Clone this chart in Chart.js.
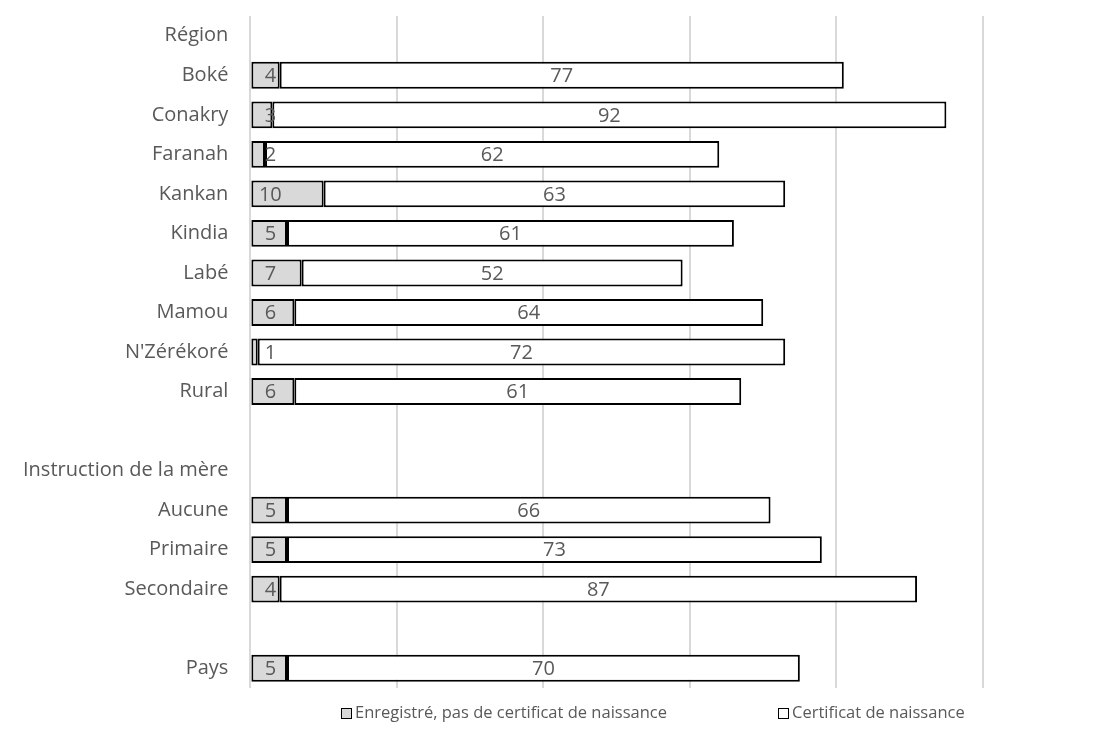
<!DOCTYPE html>
<html>
<head>
<meta charset="utf-8">
<script src="https://cdn.jsdelivr.net/npm/chart.js@4"></script>
<style>
  body { margin: 0; background: #ffffff; font-family: "Open Sans", sans-serif; }
  #box { position: relative; width: 1113px; height: 752px; overflow: hidden; }
  #area { position: absolute; left: 0; top: -10px; width: 1113px; height: 724px; }
  .legenda { position: absolute; top: 700px; font-size: 16.5px; color: #595959; line-height: 24px; white-space: nowrap; }
  .legenda span.caixa { display: inline-block; width: 9px; height: 9px; border: 1.5px solid #000; margin-right: 3px; vertical-align: -1px; }
</style>
</head>
<body>
<div id="box">
  <div id="area"><canvas id="grafico"></canvas></div>
  <div class="legenda" id="leg0" style="left:341px"></div>
  <div class="legenda" id="leg1" style="left:778px"></div>
</div>
<script>
// categories (empty entries are headings / spacers)
const categorias = ['Région', 'Boké', 'Conakry', 'Faranah', 'Kankan', 'Kindia', 'Labé', 'Mamou', "N'Zérékoré", 'Rural', '', 'Instruction de la mère', 'Aucune', 'Primaire', 'Secondaire', '', 'Pays'];
const enregistre = [null, 4, 3, 2, 10, 5, 7, 6, 1, 6, null, null, 5, 5, 4, null, 5];
const certificat = [null, 77, 92, 62, 63, 61, 52, 64, 72, 61, null, null, 66, 73, 87, null, 70];
const nomsSeries = ['Enregistré, pas de certificat de naissance', 'Certificat de naissance'];
const coresSeries = ['#d9d9d9', '#ffffff'];
const ticksX = [0, 20, 40, 60, 80, 100];

const corTexto = '#595959';
const fonte = '"Open Sans", sans-serif';
const tamanho = 20;

// etiquetas de dados dentro das barras
const etiquetas = {
  id: 'etiquetas',
  afterDatasetsDraw(chart) {
    const ctx = chart.ctx;
    const xs = chart.scales.x;
    ctx.save();
    ctx.font = tamanho + 'px ' + fonte;
    ctx.fillStyle = corTexto;
    ctx.textBaseline = 'middle';
    ctx.textAlign = 'center';
    chart.data.datasets.forEach((ds, i) => {
      const meta = chart.getDatasetMeta(i);
      meta.data.forEach((bar, j) => {
        const v = ds.data[j];
        if (v === null || v === undefined) return;
        if (i === 0) {
          ctx.fillText(String(v), xs.getPixelForValue(0) + 20, bar.y + 1);
        } else {
          ctx.fillText(String(v), (bar.x + bar.base) / 2, bar.y + 1);
        }
      });
    });
    ctx.restore();
  }
};

const ctx = document.getElementById('grafico').getContext('2d');
const grafico = new Chart(ctx, {
  type: 'bar',
  data: {
    labels: categorias,
    datasets: [{
      label: nomsSeries[0],
      data: enregistre,
      backgroundColor: coresSeries[0],
      borderColor: '#000000',
      borderWidth: 2,
      borderSkipped: false,
      categoryPercentage: 1,
      barPercentage: 0.68
    }, {
      label: nomsSeries[1],
      data: certificat,
      backgroundColor: coresSeries[1],
      borderColor: '#000000',
      borderWidth: 2,
      borderSkipped: false,
      categoryPercentage: 1,
      barPercentage: 0.68
    }]
  },
  options: {
    indexAxis: 'y',
    responsive: true,
    maintainAspectRatio: false,
    animation: false,
    layout: { padding: { left: 9, right: 130, top: 0, bottom: 0 } },
    scales: {
      x: {
        stacked: true,
        min: 0,
        max: 100,
        afterBuildTicks: (axis) => { axis.ticks = ticksX.map(v => ({ value: v })); },
        ticks: { display: false },
        grid: { color: '#d9d9d9', lineWidth: 2, drawTicks: false },
        border: { display: false }
      },
      y: {
        stacked: true,
        grid: { display: false },
        border: { display: false },
        ticks: { color: corTexto, font: { size: tamanho, family: fonte }, padding: 14 }
      }
    },
    plugins: {
      legend: { display: false },
      tooltip: { enabled: false }
    }
  },
  plugins: [etiquetas]
});

// legenda
nomsSeries.forEach((nome, i) => {
  const el = document.getElementById('leg' + i);
  const caixa = document.createElement('span');
  caixa.className = 'caixa';
  caixa.style.background = coresSeries[i];
  el.appendChild(caixa);
  el.appendChild(document.createTextNode(nome));
});
</script>
</body>
</html>
